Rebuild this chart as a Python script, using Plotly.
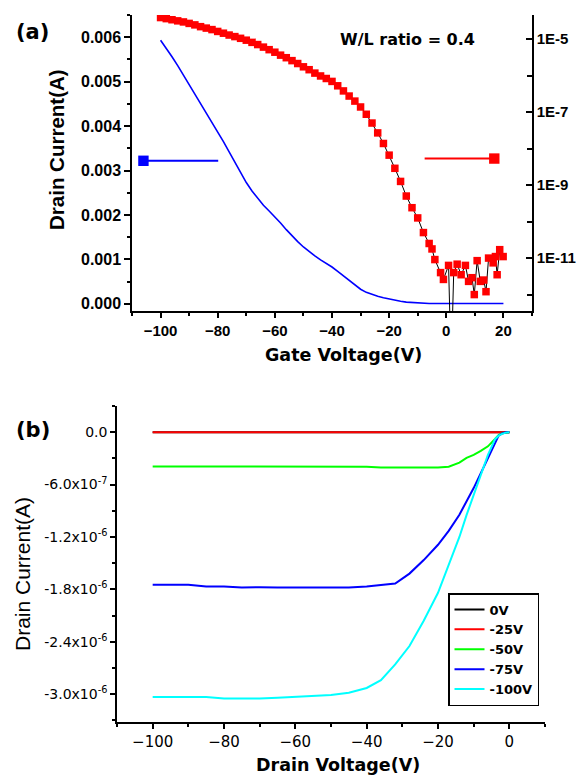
import plotly.graph_objects as go

W, H = 579, 776

# ---------------- (a) transfer curve ----------------
VG_LIN = [-100, -98, -96, -94, -92, -90, -88, -86, -84, -82, -80, -78, -76, -74, -72, -70,
          -68, -66, -64, -62, -60, -58, -56, -54, -52, -50, -48, -46, -44, -42, -40, -38,
          -36, -34, -32, -30, -28, -26, -24, -22, -20, -18, -16, -14, -12, -10, -8, -6,
          -4, -2, 0, 2, 4, 6, 8, 10, 12, 14, 16, 18, 20]
ID_LIN = [0.00593, 0.00575, 0.00556, 0.00536, 0.00515, 0.00494, 0.00473, 0.00452, 0.00431,
          0.00410, 0.00388, 0.00365, 0.00342, 0.00318, 0.00294, 0.00273, 0.00254, 0.00237,
          0.00222, 0.00209, 0.00196, 0.00182, 0.00167, 0.00153, 0.00140, 0.00128, 0.00117,
          0.00108, 0.00099, 0.00091, 0.00083, 0.00073, 0.00063, 0.00052, 0.00042, 0.00033,
          0.00026, 0.00021, 0.00017, 0.00014, 0.00011, 0.00008, 0.00006, 0.00004, 0.00003,
          0.00002, 0.00002, 0.00001, 0.00001, 0.00001, 0.00001, 0.00001, 0.00001, 0.00001,
          0.00001, 0.00001, 0.00001, 0.00001, 0.00001, 0.00001, 0.00001]

VG_LOG = [-100, -98, -96, -94, -92, -90, -88, -86, -84, -82, -80, -78, -76, -74, -72, -70,
          -68, -66, -64, -62, -60, -58, -56, -54, -52, -50, -48, -46, -44, -42, -40, -38,
          -36, -34, -32, -30, -28, -26, -24, -22, -20, -18, -16, -14, -12, -10, -8, -6,
          -5, -4, -2, -1, 0.8, 1.7, 2.6, 3.8, 5.2, 6.7, 7.8, 9.0, 9.8, 10.8, 11.9, 13.1,
          13.9, 14.8, 16.4, 17.2, 17.8, 18.7, 19.9]
ID_LOG = [3.89e-5, 3.63e-5, 3.39e-5, 3.16e-5, 2.95e-5, 2.69e-5, 2.45e-5, 2.19e-5, 2.00e-5,
          1.82e-5, 1.62e-5, 1.45e-5, 1.29e-5, 1.17e-5, 1.05e-5, 9.33e-6, 8.13e-6, 7.08e-6,
          6.03e-6, 5.13e-6, 4.37e-6, 3.63e-6, 3.09e-6, 2.57e-6, 2.14e-6, 1.74e-6, 1.45e-6,
          1.17e-6, 9.77e-7, 8.32e-7, 6.92e-7, 5.25e-7, 3.80e-7, 2.75e-7, 2.00e-7, 1.38e-7,
          8.71e-8, 5.01e-8, 2.69e-8, 1.38e-8, 6.61e-9, 2.88e-9, 1.26e-9, 5.01e-10, 2.40e-10,
          1.26e-10, 5.0e-11, 2.51e-11, 1.78e-11, 9.1e-12, 4.0e-12, 2.6e-12, 6.3e-12, 1.0e-14,
          4.0e-12, 6.8e-12, 3.5e-12, 6.3e-12, 2.3e-12, 2.9e-12, 1.0e-12, 8.5e-12, 2.3e-12,
          2.5e-12, 1.2e-12, 1.0e-11, 7.4e-12, 1.1e-11, 3.5e-12, 1.7e-11, 1.1e-11]

X_TICKS_A = [-100, -80, -60, -40, -20, 0, 20]
Y_TICKS_A = [0.000, 0.001, 0.002, 0.003, 0.004, 0.005, 0.006]
Y2_TICKVALS = [1e-11, 1e-9, 1e-7, 1e-5]
Y2_TICKTEXT = ["1E-11", "1E-9", "1E-7", "1E-5"]
Y2_MINORVALS = [1e-12, 1e-10, 1e-8, 1e-6]

# ---------------- (b) output curves ----------------
VD = [-100, -95, -90, -85, -80, -75, -70, -65, -60, -55, -50, -45, -40, -36, -32, -28,
      -24, -20, -17, -14, -12, -10, -8, -6, -4, -3, -2, -1, 0]
ID_0V = [0.0] * len(VD)
ID_25V = [0.0] * len(VD)
ID_50V = [-3.94e-7, -3.94e-7, -3.94e-7, -3.94e-7, -3.94e-7, -3.94e-7, -3.94e-7, -3.94e-7,
          -3.94e-7, -3.94e-7, -3.94e-7, -3.94e-7, -3.95e-7, -4.04e-7, -4.04e-7, -4.04e-7,
          -4.04e-7, -4.04e-7, -3.95e-7, -3.48e-7, -2.95e-7, -2.60e-7, -2.15e-7, -1.62e-7,
          -0.78e-7, -0.33e-7, -0.13e-7, -0.03e-7, 0.0]
ID_75V = [-1.748e-6, -1.748e-6, -1.748e-6, -1.768e-6, -1.768e-6, -1.780e-6, -1.775e-6,
          -1.780e-6, -1.782e-6, -1.782e-6, -1.780e-6, -1.778e-6, -1.768e-6, -1.750e-6,
          -1.733e-6, -1.620e-6, -1.465e-6, -1.290e-6, -1.130e-6, -0.945e-6, -0.800e-6,
          -0.640e-6, -0.470e-6, -0.290e-6, -0.110e-6, -0.040e-6, -0.015e-6, 0.0, 0.0]
ID_100V = [-3.034e-6, -3.034e-6, -3.034e-6, -3.034e-6, -3.052e-6, -3.054e-6, -3.052e-6,
           -3.042e-6, -3.030e-6, -3.025e-6, -3.010e-6, -2.985e-6, -2.930e-6, -2.840e-6,
           -2.660e-6, -2.450e-6, -2.160e-6, -1.840e-6, -1.520e-6, -1.200e-6, -0.950e-6,
           -0.720e-6, -0.500e-6, -0.260e-6, -0.080e-6, -0.040e-6, -0.020e-6, -0.005e-6, 0.0]
SERIES_B = [("0V", ID_0V, "#000000"), ("-25V", ID_25V, "#ff0000"),
            ("-50V", ID_50V, "#00ff00"), ("-75V", ID_75V, "#0000ff"),
            ("-100V", ID_100V, "#00ffff")]

X_TICKS_B = [-100, -80, -60, -40, -20, 0]
Y_TICKS_B = [0.0, -6.0e-7, -1.2e-6, -1.8e-6, -2.4e-6, -3.0e-6]
Y_TICKTEXT_B = ["0.0", "-6.0x10<sup>-7</sup>", "-1.2x10<sup>-6</sup>", "-1.8x10<sup>-6</sup>",
                "-2.4x10<sup>-6</sup>", "-3.0x10<sup>-6</sup>"]

ARIAL = "Arial, Liberation Sans, sans-serif"
DEJAVU = "DejaVu Sans, sans-serif"

fig = go.Figure()

fig.add_trace(go.Scatter(x=VG_LIN, y=ID_LIN, mode="lines", xaxis="x", yaxis="y",
                         line=dict(color="#0000ff", width=1.6), showlegend=False))
fig.add_trace(go.Scatter(x=VG_LOG, y=ID_LOG, mode="lines+markers", xaxis="x", yaxis="y2",
                         line=dict(color="#000000", width=1),
                         marker=dict(symbol="square", size=7.5, color="#ff0000",
                                     line=dict(width=0)),
                         showlegend=False))

for name, vals, col in SERIES_B:
    fig.add_trace(go.Scatter(x=VD, y=vals, mode="lines", name=name, xaxis="x2", yaxis="y3",
                             line=dict(color=col, width=2)))

axis_common = dict(showline=True, linecolor="black", linewidth=1.5, showgrid=False,
                   zeroline=False, ticks="outside", tickcolor="black", tickwidth=1.5,
                   automargin=False)
minor_out = dict(ticks="outside", ticklen=3, tickcolor="black", tickwidth=1.5, showgrid=False)

fig.update_layout(
    width=W, height=H,
    margin=dict(l=0, r=0, t=0, b=0),
    paper_bgcolor="white", plot_bgcolor="white",
    xaxis=dict(domain=[132 / W, 532 / W], anchor="y", range=[-110, 30],
               tickvals=X_TICKS_A, ticklen=5,
               minor=dict(dtick=10, tick0=0, **minor_out),
               tickfont=dict(family=ARIAL, size=15, color="black", weight="bold"),
               **axis_common),
    yaxis=dict(domain=[(H - 311) / H, (H - 15) / H], anchor="x", range=[-0.00016, 0.0065],
               tickvals=Y_TICKS_A, tickformat=".3f", ticklen=6,
               minor=dict(dtick=0.0005, tick0=0, **minor_out),
               tickfont=dict(family=ARIAL, size=16, color="black", weight="bold"),
               **axis_common),
    yaxis2=dict(overlaying="y", side="right", anchor="x", type="log", range=[-12.45, -4.34],
                showline=True, linecolor="black", linewidth=1.5, showgrid=False, zeroline=False,
                ticks="inside", tickcolor="black", tickwidth=1.5, ticklen=6, automargin=False,
                tickvals=Y2_TICKVALS, ticktext=Y2_TICKTEXT,
                minor=dict(tickvals=Y2_MINORVALS, ticks="inside", ticklen=5, tickcolor="black",
                           tickwidth=1.5, showgrid=False),
                tickfont=dict(family=ARIAL, size=15, color="black", weight="bold")),
    xaxis2=dict(domain=[117 / W, 545 / W], anchor="y3", range=[-110, 10],
                tickvals=X_TICKS_B, ticklen=5,
                minor=dict(dtick=10, tick0=0, **minor_out),
                tickfont=dict(family=DEJAVU, size=15, color="black"),
                **axis_common),
    yaxis3=dict(domain=[(H - 722) / H, (H - 406) / H], anchor="x2", range=[-3.32e-6, 3.0e-7],
                tickvals=Y_TICKS_B, ticktext=Y_TICKTEXT_B, ticklen=5,
                minor=dict(dtick=3e-7, tick0=0, **minor_out),
                tickfont=dict(family=DEJAVU, size=14, color="black"),
                **axis_common),
    legend=dict(x=448 / W, y=(H - 593) / H, xanchor="left", yanchor="top",
                bgcolor="white", bordercolor="black", borderwidth=1.5,
                font=dict(family=DEJAVU, size=13, color="black", weight="bold"),
                itemwidth=30, tracegroupgap=0),
)

annos = [
    dict(text="(a)", x=32 / W, y=(H - 32) / H, font=dict(family=DEJAVU, size=21, weight="bold")),
    dict(text="(b)", x=33 / W, y=(H - 430) / H, font=dict(family=DEJAVU, size=21, weight="bold")),
    dict(text="W/L ratio = 0.4", x=408 / W, y=(H - 39) / H,
         font=dict(family=DEJAVU, size=16, weight="bold")),
    dict(text="Drain Current(A)", x=57 / W, y=(H - 150) / H, textangle=-90,
         font=dict(family=ARIAL, size=20.5, weight="bold")),
    dict(text="Gate Voltage(V)", x=343 / W, y=(H - 355) / H,
         font=dict(family=DEJAVU, size=17.5, weight="bold")),
    dict(text="Drain Current(A)", x=22 / W, y=(H - 574) / H, textangle=-90,
         font=dict(family=ARIAL, size=21)),
    dict(text="Drain Voltage(V)", x=338 / W, y=(H - 765) / H,
         font=dict(family=DEJAVU, size=17.5, weight="bold")),
]
for a in annos:
    a.update(xref="paper", yref="paper", showarrow=False, xanchor="center", yanchor="middle")
    a["font"]["color"] = "black"
    fig.add_annotation(**a)

# direction arrows (blue -> left axis, red -> right axis)
fig.add_annotation(x=-106, y=0.00322, xref="x", yref="y", ax=-79.3, ay=0.00322,
                   axref="x", ayref="y", text="", showarrow=True, arrowhead=7,
                   arrowsize=1.3, arrowwidth=2, arrowcolor="#0000ff")
fig.add_annotation(x=16.8, y=0.00327, xref="x", yref="y", ax=-8.1, ay=0.00327,
                   axref="x", ayref="y", text="", showarrow=True, arrowhead=7,
                   arrowsize=1.3, arrowwidth=2, arrowcolor="#ff0000")

fig.write_html("out.html", config={"displayModeBar": False},
               post_script="document.body.style.margin='0';")
